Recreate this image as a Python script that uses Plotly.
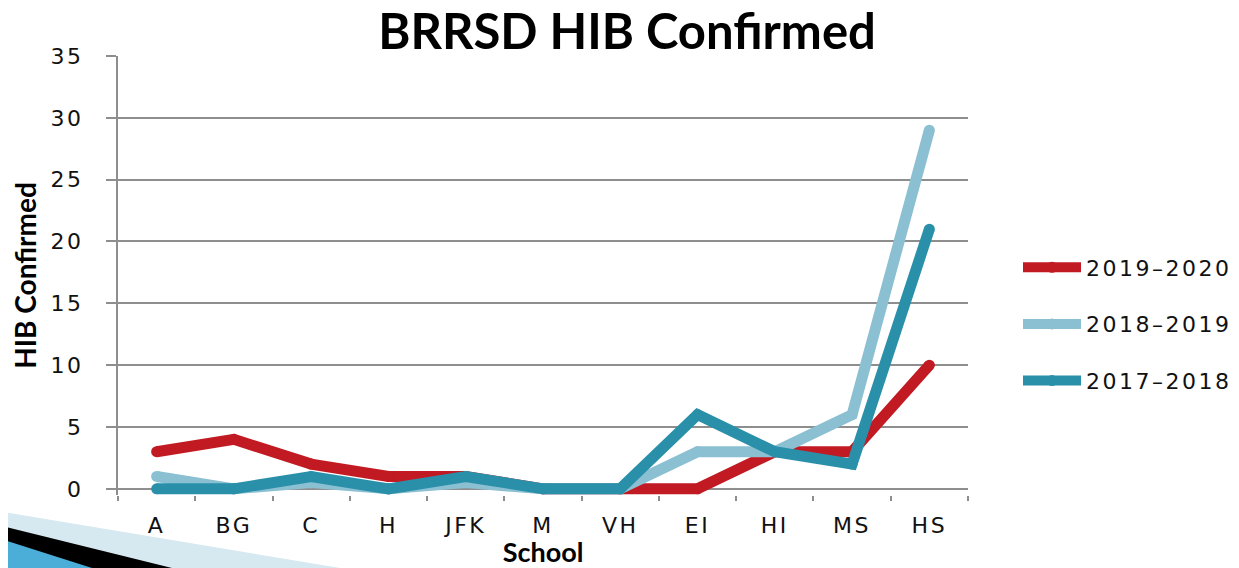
import plotly.graph_objects as go

schools = ["A", "BG", "C", "H", "JFK", "M", "VH", "EI", "HI", "MS", "HS"]
y2019_2020 = [3, 4, 2, 1, 1, 0, 0, 0, 3, 3, 10]
y2018_2019 = [1, 0, 0.5, 0, 0.5, 0, 0, 3, 3, 6, 29]
y2017_2018 = [0, 0, 1, 0, 1, 0, 0, 6, 3, 2, 21]
series_names = ["2019\u20132020", "2018\u20132019", "2017\u20132018"]
y_ticks = [0, 5, 10, 15, 20, 25, 30, 35]

colors = ["#c11a22", "#8bbfd2", "#2a90aa"]
series_vals = [y2019_2020, y2018_2019, y2017_2018]

OFF = 8  # default page body margin
W, H = 1239 - OFF, 568 - OFF
L, R, T, B = 110, 271, 48, 73
PW, PH = W - L - R, H - T - B


def px(x):
    return (x - OFF - L) / PW


def py(y):
    return (H - B - (y - OFF)) / PH


SP = "letter-spacing:2.5px"


def spaced(t):
    return f"<span style='{SP}'>{t}</span>"


fig = go.Figure()
LW = 11
for name, vals, col in zip(series_names, series_vals, colors):
    fig.add_trace(go.Scatter(
        x=schools, y=vals, name=spaced(name), mode="lines+markers",
        line=dict(color=col, width=LW),
        marker=dict(color=col, size=LW),
    ))

GRID = "#8e8e8e"
TICKFONT = dict(family="DejaVu Sans", size=22, color="#111111")
TITLEFONT = dict(family="Lato", size=27, color="#000000")

shapes = []
# bottom-left template decoration
shapes.append(dict(type="path", xref="paper", yref="paper", layer="below",
                   path=f"M {px(-2)},{py(511)} L {px(340)},{py(568)} L {px(340)},{py(580)} L {px(-2)},{py(580)} Z",
                   fillcolor="#d6e9f1", line=dict(width=0)))
shapes.append(dict(type="path", xref="paper", yref="paper", layer="below",
                   path=f"M {px(-2)},{py(525)} L {px(172)},{py(568)} L {px(172)},{py(580)} L {px(-2)},{py(580)} Z",
                   fillcolor="#000000", line=dict(width=0)))
shapes.append(dict(type="path", xref="paper", yref="paper", layer="below",
                   path=f"M {px(-2)},{py(538)} L {px(92)},{py(568)} L {px(92)},{py(580)} L {px(-2)},{py(580)} Z",
                   fillcolor="#4aaed8", line=dict(width=0)))

fig.update_layout(
    width=W, height=H,
    margin=dict(l=L, r=R, t=T, b=B, autoexpand=False),
    paper_bgcolor="white", plot_bgcolor="white",
    title=dict(text="<b>BRRSD HIB Confirmed</b>", x=(627 - OFF) / W, xanchor="center",
               y=1 - (32 - OFF) / H, yanchor="middle", xref="container", yref="container",
               font=dict(family="Lato", size=49, color="#000000")),
    xaxis=dict(
        type="category", categoryorder="array", categoryarray=schools,
        tickmode="array", tickvals=schools, ticktext=[spaced(s) for s in schools],
        range=[-0.5, 10.5], showgrid=False, showline=False, zeroline=False,
        ticks="outside", tickson="boundaries", ticklen=5, tickwidth=2, tickcolor=GRID,
        tickfont=TICKFONT, ticklabelstandoff=15,
        title=dict(text="<b>School</b>", font=TITLEFONT, standoff=0),
    ),
    yaxis=dict(
        range=[-0.5, 35], tickmode="array", tickvals=y_ticks,
        ticktext=[spaced(str(v)) for v in y_ticks],
        showgrid=True, gridcolor=GRID, gridwidth=2,
        zeroline=True, zerolinecolor=GRID, zerolinewidth=2,
        showline=True, linecolor=GRID, linewidth=2,
        ticks="outside", ticklen=10, tickwidth=2, tickcolor=GRID,
        tickfont=TICKFONT, ticklabelstandoff=18,
        title=dict(text="<b>HIB Confirmed</b>", font=dict(family="Lato", size=28, color="#000000"),
                   standoff=6),
    ),
    legend=dict(
        x=px(1018), y=py(324), xanchor="left", yanchor="middle",
        font=dict(family="DejaVu Sans", size=22, color="#111111"),
        traceorder="grouped", tracegroupgap=25, itemwidth=58,
        bgcolor="rgba(0,0,0,0)",
    ),
    shapes=shapes,
    showlegend=True,
)
for i, tr in enumerate(fig.data):
    tr.legendgroup = f"g{i}"

fig.write_html("out.html")
